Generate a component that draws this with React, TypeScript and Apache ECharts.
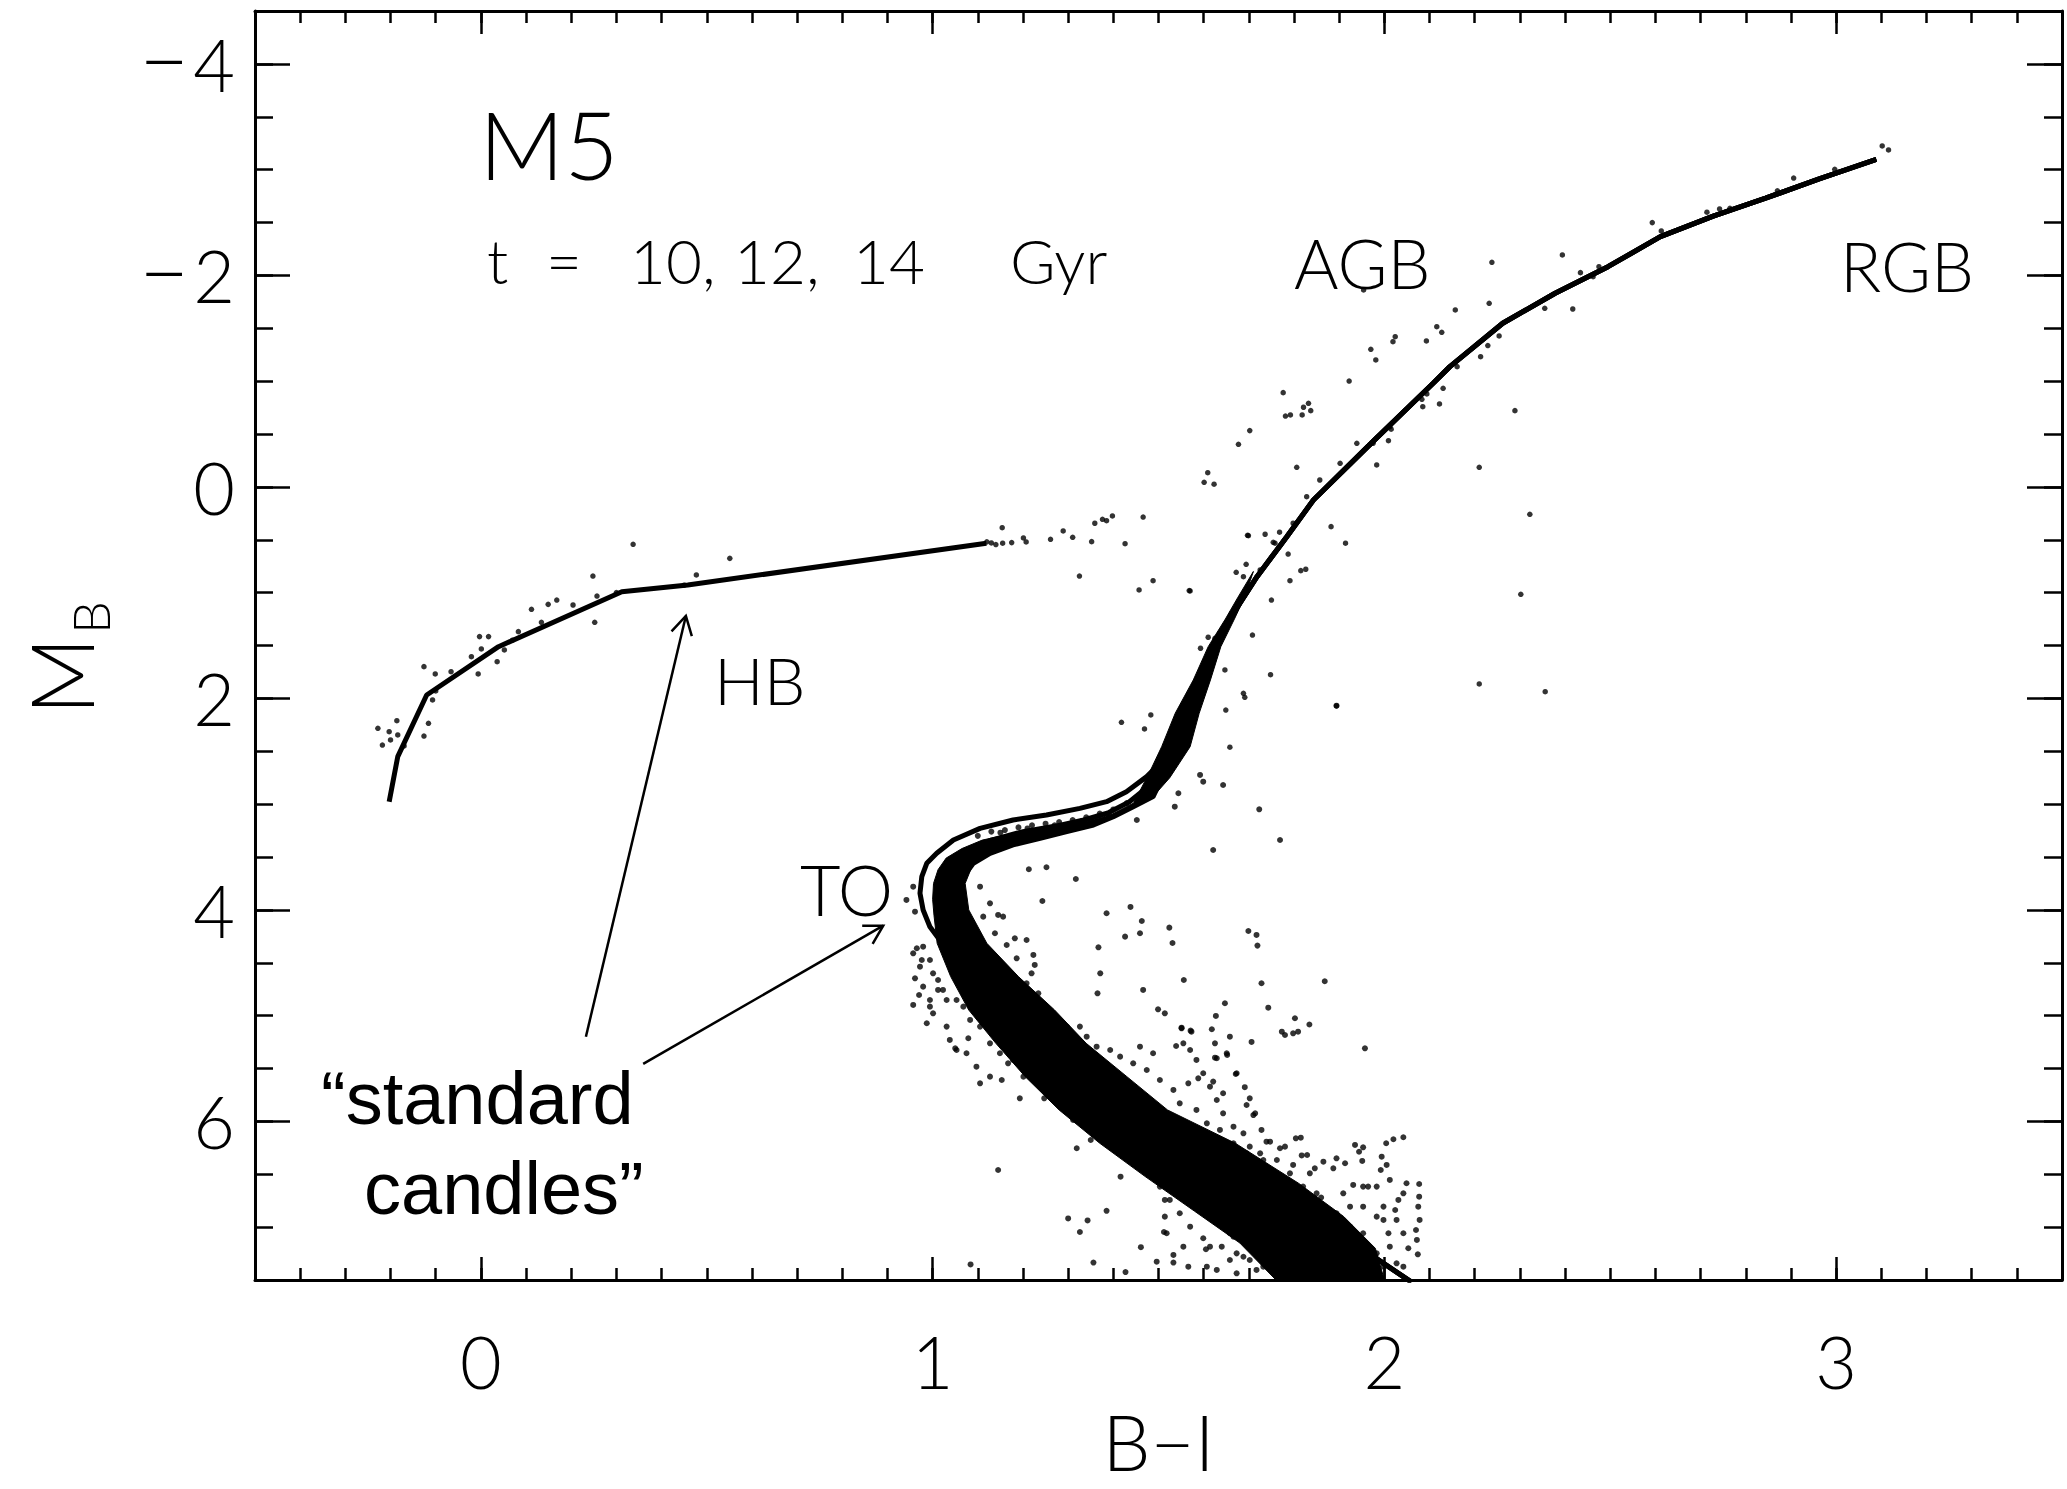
import React, { useEffect, useRef } from "react";
import * as echarts from "echarts";

// Colour–magnitude diagram of the globular cluster M5 (B−I against M_B),
// with 10/12/14 Gyr isochrones, the ZAHB track and the observed stars.

const xTickValues = [0, 1, 2, 3];
const yTickValues = [-4, -2, 0, 2, 4, 6];

// Lower main sequence shared by the three isochrones (faint end upward)
const isoMainSequence = [
  [2.06, 7.52], [1.9, 7.06], [1.72, 6.7], [1.57, 6.35], [1.44, 6.0],
  [1.32, 5.65], [1.235, 5.3], [1.165, 4.95], [1.11, 4.65],
];
// Turn-off and subgiant segments, one per age
const isoTurnoff10 = [
  [1.06, 4.45], [1.015, 4.28], [0.994, 4.159], [0.979, 4.001], [0.972, 3.843],
  [0.976, 3.686], [0.987, 3.56], [1.009, 3.465], [1.046, 3.339], [1.105, 3.229],
  [1.178, 3.15], [1.252, 3.103], [1.326, 3.04], [1.385, 2.977], [1.429, 2.882],
  [1.474, 2.74], [1.511, 2.583],
];
const isoTurnoff12 = [
  [1.08, 4.45], [1.05, 4.2], [1.04, 4.0], [1.03, 3.843], [1.035, 3.686],
  [1.05, 3.56], [1.075, 3.46], [1.13, 3.34], [1.2, 3.26], [1.27, 3.21],
  [1.335, 3.15], [1.39, 3.08], [1.435, 2.98], [1.47, 2.86], [1.5, 2.7],
];
const isoTurnoff14 = [
  [1.09, 4.45], [1.07, 4.2], [1.064, 4.001], [1.06, 3.843], [1.068, 3.686],
  [1.09, 3.56], [1.127, 3.465], [1.178, 3.386], [1.238, 3.323], [1.297, 3.26],
  [1.356, 3.197], [1.4, 3.119], [1.444, 3.024], [1.488, 2.929], [1.508, 2.75],
];
// Giant branch shared by the three isochrones (base to tip)
const isoGiantBranch = [
  [1.518, 2.551], [1.57, 1.984], [1.614, 1.606], [1.666, 1.195], [1.718, 0.849],
  [1.784, 0.471], [1.843, 0.124], [1.975, -0.43], [2.108, -0.98], [2.145, -1.137],
  [2.262, -1.547], [2.378, -1.831], [2.495, -2.082], [2.611, -2.366], [2.728, -2.56],
  [2.844, -2.73], [2.961, -2.91], [3.089, -3.098],
];
// Zero-age horizontal branch track
const hbTrack = [
  [-0.203, 2.977], [-0.184, 2.551], [-0.12, 1.968], [0.039, 1.511],
  [0.312, 0.991], [0.458, 0.928], [1.119, 0.533],
];

// Outline of the densely populated cluster body: lower RGB, SGB, turn-off, MS
const clusterBodyOutline = [
  [1.71, 0.8], [1.675, 1.05], [1.648, 1.25], [1.61, 1.511], [1.577, 1.826],
  [1.537, 2.141], [1.507, 2.457], [1.48, 2.7], [1.445, 2.99], [1.395, 3.1],
  [1.335, 3.17], [1.26, 3.225], [1.18, 3.275], [1.11, 3.34], [1.065, 3.42],
  [1.03, 3.51], [1.012, 3.62], [1.002, 3.75], [1.0, 3.9], [1.003, 4.05],
  [1.01, 4.316], [1.04, 4.631], [1.08, 4.947], [1.14, 5.262], [1.205, 5.577],
  [1.28, 5.892], [1.37, 6.207], [1.47, 6.52], [1.58, 6.85], [1.68, 7.15],
  [1.76, 7.5], [2.0, 7.5], [1.98, 7.2], [1.91, 6.9], [1.81, 6.585],
  [1.67, 6.207], [1.52, 5.892], [1.43, 5.577], [1.34, 5.262], [1.27, 4.947],
  [1.19, 4.631], [1.12, 4.316], [1.08, 4.0], [1.072, 3.75], [1.09, 3.56],
  [1.127, 3.465], [1.178, 3.386], [1.238, 3.323], [1.297, 3.26], [1.356, 3.197],
  [1.4, 3.119], [1.444, 3.024], [1.488, 2.929], [1.525, 2.75], [1.57, 2.457],
  [1.59, 2.141], [1.615, 1.826], [1.638, 1.511], [1.668, 1.25], [1.69, 1.05],
];

// Horizontal-branch stars (blue tail, red end and the variable-star gap)
const hbStars = [
  [-0.228, 2.283], [-0.203, 2.315], [-0.184, 2.346], [-0.218, 2.441], [-0.2, 2.393],
  [-0.186, 2.211], [-0.116, 2.236], [-0.126, 2.356], [-0.107, 2.015], [-0.126, 1.7],
  [-0.101, 1.769], [-0.066, 1.748], [-0.003, 1.416], [0.017, 1.416], [0.001, 1.533],
  [-0.021, 1.606], [-0.006, 1.769], [0.036, 1.653], [0.052, 1.542], [0.083, 1.369],
  [0.134, 1.281], [0.112, 1.158], [0.149, 1.111], [0.168, 1.07], [0.204, 1.117],
  [0.248, 0.843], [0.257, 1.032], [0.252, 1.281], [0.337, 0.543], [0.477, 0.833],
  [0.551, 0.676], [0.45, 0.93], [0.3, 1.0], [-0.1, 1.93], [0.07, 1.45], [-0.17, 2.45],
  [1.154, 0.386], [1.155, 0.533], [1.175, 0.527], [1.201, 0.483], [1.207, 0.521],
  [1.261, 0.496], [1.289, 0.417], [1.31, 0.477], [1.352, 0.518], [1.359, 0.344],
  [1.376, 0.307], [1.385, 0.32], [1.398, 0.275], [1.466, 0.285], [1.426, 0.537],
  [1.325, 0.843], [1.457, 0.975], [1.488, 0.887], [1.57, 0.984], [1.13, 0.53],
  [1.14, 0.545], [1.12, 0.52],
];

// Giant-branch, AGB and bright field stars
const giantStars = [
  [1.922, -1.001], [1.776, -0.891], [1.832, -0.79], [1.837, -0.721], [1.821, -0.753],
  [1.781, -0.67], [1.792, -0.68], [1.818, -0.68], [1.702, -0.532], [1.677, -0.403],
  [1.609, -0.134], [1.601, -0.043], [1.623, -0.025], [1.806, -0.185], [1.983, -0.207],
  [2.009, -0.437], [2.015, -0.545], [2.083, -0.828], [2.085, -0.758], [2.122, -0.784],
  [2.094, -0.879], [2.13, -0.932], [2.289, -0.721], [2.21, -0.185], [2.322, 0.259],
  [2.302, 1.016], [2.21, 1.864], [2.356, 1.937], [1.894, 2.072], [1.748, 1.776],
  [1.708, 1.401], [1.914, 0.533], [1.882, 0.376], [1.791, 0.887], [1.815, 0.792],
  [1.826, 0.779], [1.75, 1.07], [1.699, 0.461], [1.736, 0.448], [1.768, 0.429],
  [1.694, 0.732], [1.672, 0.808], [1.688, 0.849], [1.568, 0.981], [1.418, 2.226],
  [1.483, 2.157], [1.469, 2.289], [1.61, 1.422], [1.625, 1.432], [1.593, 1.526],
  [1.647, 1.731], [1.649, 2.11], [1.688, 1.952], [1.691, 1.99], [1.658, 2.462],
  [1.754, 0.524], [1.787, 0.635], [1.697, 0.458],
  [3.102, -3.224], [3.116, -3.186], [2.997, -3.003], [2.714, -2.597], [2.742, -2.628],
  [2.765, -2.634], [2.593, -2.499], [2.613, -2.42], [2.394, -2.193], [2.238, -2.124],
  [2.434, -2.026], [2.475, -2.082], [2.462, -1.988], [2.157, -1.673], [2.232, -1.736],
  [2.355, -1.689], [2.417, -1.682], [2.254, -1.427], [2.229, -1.336], [2.213, -1.231],
  [2.161, -1.137], [1.954, -1.862], [2.116, -1.515], [2.127, -1.462], [2.019, -1.373],
  [2.024, -1.42], [2.093, -1.38], [1.97, -1.301], [1.981, -1.2], [2.906, -2.92],
  [2.87, -2.8],
  // stars sitting on the red giant branch
  [1.857, -0.065], [1.828, 0.093], [1.798, 0.344], [1.758, 0.533], [1.725, 0.786],
  [1.68, 1.07], [1.662, 1.195], [1.636, 1.384], [1.614, 1.606], [1.592, 1.763],
  [1.577, 1.921], [1.902, -0.223], [1.939, -0.412], [1.975, -0.412], [2.012, -0.569],
];

// Stars around the turn-off and main sequence, plus faint field stars
const fieldStars = [
  [1.643, 2.819], [1.599, 2.788], [1.592, 2.724], [1.544, 2.897], [1.723, 3.049],
  [1.769, 3.339], [1.621, 3.434], [1.536, 3.024], [1.452, 3.15], [1.252, 3.597],
  [1.213, 3.616], [1.317, 3.708], [1.243, 3.916], [1.385, 4.032], [1.438, 3.972],
  [1.463, 4.105], [1.524, 4.168], [1.459, 4.221], [1.426, 4.253], [1.531, 4.313],
  [1.367, 4.354], [1.699, 4.2], [1.717, 4.237], [1.719, 4.338], [1.556, 4.663],
  [1.728, 4.694], [1.371, 4.6], [1.365, 4.789], [1.466, 4.757], [1.647, 4.883],
  [1.743, 4.925], [1.802, 5.025], [1.773, 5.152], [1.78, 5.183], [1.499, 4.94],
  [1.514, 4.978], [1.627, 5.003], [1.618, 5.129], [1.551, 5.114], [1.571, 5.142],
  [1.706, 5.249], [1.658, 5.199], [1.652, 5.372], [1.625, 5.398], [1.539, 5.287],
  [1.488, 5.356], [1.459, 5.294], [1.673, 5.545], [1.621, 5.624], [1.588, 5.593],
  [1.566, 5.64], [1.643, 5.734], [1.714, 5.924], [1.695, 5.845], [1.739, 6.192],
  [1.769, 6.254], [1.804, 6.16], [1.809, 5.152],
  [0.942, 3.906], [0.957, 3.781], [0.961, 4.017], [0.965, 4.363], [0.976, 4.474],
  [0.961, 4.647], [0.97, 4.805], [0.957, 4.899], [1.012, 4.757], [1.038, 5.23],
  [1.053, 5.325], [1.079, 5.214], [1.105, 5.64], [1.153, 5.609], [1.193, 5.782],
  [1.247, 5.782], [1.145, 6.46], [0.994, 4.915], [1.167, 5.451], [1.134, 5.01],
  [1.311, 5.987], [1.319, 6.254], [1.35, 6.176], [1.416, 6.523],
  [1.894, 2.069], [1.957, 5.309], [1.868, 4.675], [1.834, 5.084], [1.3, 6.918],
  [1.343, 6.937], [1.326, 7.046], [1.385, 6.846], [1.356, 7.335], [1.461, 7.19],
  [1.512, 7.046], [1.605, 7.209], [1.715, 7.19], [1.533, 7.335], [1.427, 7.425],
  [1.084, 7.353], [1.05, 5.309], [1.817, 6.322], [1.86, 6.72], [1.798, 5.167],
  [2.042, 6.15], [2.02, 6.169], [2.004, 6.207], [1.935, 6.223], [1.953, 6.245],
  [1.944, 6.287], [1.951, 6.374], [1.994, 6.334], [2.005, 6.412], [1.992, 6.46],
  [2.049, 6.585], [2.077, 6.592], [2.077, 6.712], [2.075, 6.807], [2.078, 6.932],
  [2.07, 7.027], [2.072, 7.121], [2.074, 7.257], [2.053, 7.2], [2.042, 7.374],
  [2.024, 6.838], [2.031, 6.743], [1.998, 6.806], [2.009, 7.058], [1.983, 6.901],
  [1.964, 6.617], [1.931, 6.601], [1.913, 6.396], [1.894, 6.349], [1.887, 6.444],
  [1.865, 6.381], [1.846, 6.444], [1.829, 6.318], [1.815, 6.154], [1.798, 6.412],
  [1.78, 6.239], [1.747, 6.192], [1.728, 6.081], [1.71, 5.94], [1.702, 5.782],
  [1.691, 5.677], [1.671, 5.552], [1.651, 5.356], [1.629, 5.403], [1.625, 5.262],
  [1.573, 5.152], [1.551, 5.12],
  [1.514, 6.901], [1.533, 7.263], [1.555, 7.185], [1.566, 7.374], [1.607, 7.374],
  [1.599, 7.105], [1.64, 7.185], [1.666, 7.09], [1.658, 7.311], [1.688, 7.28],
  [1.518, 7.058], [1.496, 7.327], [1.514, 6.743],
  [1.717, 7.405], [1.798, 7.374], [1.828, 7.405], [1.88, 7.421], [1.924, 7.374],
  [1.961, 7.437], [1.99, 7.468],
  // red-side fringe of the upper main sequence
  [1.105, 3.781], [1.127, 3.938], [1.112, 4.064], [1.145, 4.048], [1.156, 4.064],
  [1.138, 4.221], [1.164, 4.332], [1.182, 4.269], [1.186, 4.458], [1.208, 4.285],
  [1.223, 4.426], [1.226, 4.521], [1.219, 4.6], [1.208, 4.694], [1.234, 4.789],
  [1.252, 4.978], [1.238, 5.072], [1.275, 5.072], [1.297, 5.104], [1.326, 5.104],
  [1.341, 5.199], [1.363, 5.294], [1.393, 5.325], [1.415, 5.388], [1.444, 5.451],
  [1.474, 5.514], [1.503, 5.609], [1.533, 5.703], [1.547, 5.829], [1.584, 5.892],
  [1.607, 6.018], [1.636, 6.081], [1.666, 6.207], [1.695, 6.302], [1.732, 6.365],
  [1.754, 6.491],
  // blue-side fringe of the main sequence
  [0.979, 4.348], [0.994, 4.474], [1.001, 4.6], [1.012, 4.663], [1.023, 4.757],
  [1.031, 4.852], [1.053, 4.852], [1.068, 4.915], [1.083, 5.041], [1.105, 5.104],
  [1.127, 5.262], [1.149, 5.356], [1.178, 5.419], [1.201, 5.577], [1.223, 5.609],
  [1.252, 5.672], [1.282, 5.766], [1.326, 5.829], [1.348, 5.987], [1.37, 6.05],
  [1.4, 6.113], [1.429, 6.207], [1.459, 6.239], [1.474, 6.365], [1.511, 6.428],
  [0.957, 4.411], [0.972, 4.537], [0.979, 4.726], [0.994, 4.852], [1.001, 4.978],
  [0.987, 5.072], [1.031, 5.104], [1.075, 5.356], [1.097, 5.483], [1.127, 5.577],
  // scatter around the faint end of the main sequence
  [1.953, 6.617], [1.983, 6.617], [2.012, 6.554], [2.042, 6.68], [1.998, 6.932],
  [2.027, 6.932], [2.042, 7.058], [2.012, 7.185], [1.983, 7.248], [1.953, 7.058],
  [1.924, 6.996], [1.894, 6.869], [1.865, 6.807], [1.85, 6.68], [1.82, 6.617],
  [1.806, 6.743], [1.828, 6.869], [1.85, 6.996], [1.88, 7.058], [1.909, 7.185],
  [1.939, 7.311], [1.968, 7.342], [1.998, 7.374], [2.027, 7.342], [1.924, 6.807],
  [1.953, 6.807], [1.909, 6.68], [1.835, 6.491], [1.791, 6.491], [1.762, 6.365],
  [1.739, 6.428], [1.725, 6.302], [1.702, 6.239], [1.688, 6.113], [1.666, 6.05],
  [1.643, 5.924], [1.629, 5.798], [1.614, 5.672], [1.599, 5.545], [1.584, 5.419],
  [1.57, 5.325], [1.555, 5.262],
  [1.503, 6.617], [1.525, 6.743], [1.547, 6.869], [1.57, 6.996], [1.525, 6.491],
  [1.496, 6.365], [1.555, 6.617], [1.584, 6.807], [1.629, 6.932], [1.658, 7.058],
  [1.614, 7.185], [1.673, 7.248], [1.702, 7.311], [1.732, 7.374], [1.762, 7.437],
  [1.673, 7.437], [1.629, 7.405],
  // subgiants between the isochrones
  [1.1, 3.3], [1.13, 3.26], [1.16, 3.245], [1.19, 3.22], [1.22, 3.2],
  [1.25, 3.185], [1.28, 3.17], [1.31, 3.15], [1.34, 3.125], [1.37, 3.09],
  [1.4, 3.05], [1.43, 2.99], [1.15, 3.27], [1.21, 3.23], [1.27, 3.2],
  [1.33, 3.16], [1.39, 3.1],
];

// "standard candles" pointers: from the caption to the HB and the turn-off
const arrowTails = [[0.2325, 5.199], [0.3593, 5.457]];
const arrowTips = [[0.4538, 1.2208], [0.8906, 4.149]];

const THIN_FONT = "Lato, 'DejaVu Sans', sans-serif";
const CAPTION_FONT = "'Liberation Sans', Arial, sans-serif";

// Tick label with a long minus sign drawn as its own rich-text token
const tickText = (v: number) =>
  v < 0 ? "{neg|\u2212}{num|" + String(Math.abs(v)) + "}" : "{num|" + String(v) + "}";

const tickRich = {
  neg: {
    fontSize: 86,
    fontFamily: THIN_FONT,
    fontWeight: 300,
    color: "#000",
    padding: [0, 4, 10, 0],
  },
  num: {
    fontSize: 72,
    fontFamily: THIN_FONT,
    fontWeight: 300,
    color: "#000",
  },
};

function buildOption() {
  const frameLine = { color: "#000", width: 3 };
  const tickLine = { color: "#000", width: 2.5 };

  const isoPath = (turnoff: number[][]) => [
    ...isoMainSequence,
    ...turnoff,
    ...isoGiantBranch,
  ];

  const lineSeries = (name: string, data: number[][]) => ({
    name,
    type: "line",
    data,
    xAxisIndex: 0,
    yAxisIndex: 0,
    showSymbol: false,
    symbol: "none",
    smooth: false,
    lineStyle: { color: "#000", width: 5 },
    z: 4,
    silent: true,
  });

  const starSeries = (name: string, data: number[][], size: number) => ({
    name,
    type: "scatter",
    data,
    xAxisIndex: 0,
    yAxisIndex: 0,
    symbol: "circle",
    symbolSize: size,
    itemStyle: { color: "#000" },
    z: 3,
    silent: true,
  });

  const text = (
    str: string,
    x: number,
    y: number,
    size: number,
    family = THIN_FONT,
    weight: number | string = 300
  ) => ({
    type: "text",
    x,
    y,
    silent: true,
    style: {
      text: str,
      fontSize: size,
      fontFamily: family,
      fontWeight: weight,
      fill: "#000",
      align: "left",
      verticalAlign: "middle",
    },
  });

  const xMajor = (position: string, labels: boolean) => ({
    type: "value",
    position,
    min: -0.5,
    max: 3.5,
    axisLine: { show: true, onZero: false, lineStyle: frameLine },
    axisTick: { show: true, inside: true, length: 23, customValues: xTickValues, lineStyle: tickLine },
    axisLabel: {
      show: labels,
      customValues: xTickValues,
      margin: 45,
      fontSize: 72,
      fontFamily: THIN_FONT,
      fontWeight: 300,
      color: "#000",
      rich: tickRich,
      formatter: (v: number) =>
        Math.abs(v - Math.round(v)) < 1e-6 ? tickText(Math.round(v)) : "",
    },
    splitLine: { show: false },
  });
  const xMinor = (position: string) => ({
    type: "value",
    position,
    min: -0.5,
    max: 3.5,
    interval: 0.1,
    axisLine: { show: false, onZero: false },
    axisTick: { show: true, inside: true, length: 12, lineStyle: tickLine },
    axisLabel: { show: false },
    splitLine: { show: false },
  });
  const yMajor = (position: string, labels: boolean) => ({
    type: "value",
    position,
    inverse: true,
    min: -4.5,
    max: 7.5,
    axisLine: { show: true, onZero: false, lineStyle: frameLine },
    axisTick: { show: true, inside: true, length: 35, customValues: yTickValues, lineStyle: tickLine },
    axisLabel: {
      show: labels,
      customValues: yTickValues,
      margin: 20,
      fontSize: 72,
      fontFamily: THIN_FONT,
      fontWeight: 300,
      color: "#000",
      rich: tickRich,
      formatter: (v: number) =>
        Math.abs(v / 2 - Math.round(v / 2)) < 1e-6 ? tickText(Math.round(v)) : "",
    },
    splitLine: { show: false },
  });
  const yMinor = (position: string) => ({
    type: "value",
    position,
    inverse: true,
    min: -4.5,
    max: 7.5,
    interval: 0.5,
    axisLine: { show: false, onZero: false },
    axisTick: { show: true, inside: true, length: 18, lineStyle: tickLine },
    axisLabel: { show: false },
    splitLine: { show: false },
  });

  const xBottom = {
    ...xMajor("bottom", true),
    name: "B\u2212I",
    nameLocation: "middle",
    nameGap: 133,
    nameTextStyle: {
      fontSize: 76,
      lineHeight: 56,
      fontFamily: THIN_FONT,
      fontWeight: 300,
      color: "#000",
    },
  };

  return {
    animation: false,
    backgroundColor: "#fff",
    grid: { left: 255, right: 5, top: 11, bottom: 209, containLabel: false, show: false },
    xAxis: [xBottom, xMinor("bottom"), xMajor("top", false), xMinor("top")],
    yAxis: [yMajor("left", true), yMinor("left"), yMajor("right", false), yMinor("right")],
    series: [
      {
        name: "cluster body",
        type: "custom",
        coordinateSystem: "cartesian2d",
        xAxisIndex: 0,
        yAxisIndex: 0,
        data: [clusterBodyOutline[0]],
        silent: true,
        z: 2,
        renderItem: (_params: any, api: any) => ({
          type: "polygon",
          shape: { points: clusterBodyOutline.map((p) => api.coord(p)) },
          style: { fill: "#000", stroke: "#000", lineWidth: 1 },
        }),
      },
      starSeries("field stars", fieldStars, 6),
      starSeries("giant stars", giantStars, 5.5),
      starSeries("HB stars", hbStars, 5.5),
      lineSeries("10 Gyr", isoPath(isoTurnoff10)),
      lineSeries("12 Gyr", isoPath(isoTurnoff12)),
      lineSeries("14 Gyr", isoPath(isoTurnoff14)),
      lineSeries("ZAHB", hbTrack),
      {
        name: "pointers",
        type: "custom",
        coordinateSystem: "cartesian2d",
        xAxisIndex: 0,
        yAxisIndex: 0,
        silent: true,
        z: 6,
        data: arrowTips.map((tip, i) => [tip[0], tip[1], arrowTails[i][0], arrowTails[i][1]]),
        renderItem: (_params: any, api: any) => {
          const tip = api.coord([api.value(0), api.value(1)]);
          const tail = api.coord([api.value(2), api.value(3)]);
          const ang = Math.atan2(tail[1] - tip[1], tail[0] - tip[0]);
          const len = 21;
          const spread = 0.52;
          const w1 = [tip[0] + len * Math.cos(ang + spread), tip[1] + len * Math.sin(ang + spread)];
          const w2 = [tip[0] + len * Math.cos(ang - spread), tip[1] + len * Math.sin(ang - spread)];
          const style = { stroke: "#000", lineWidth: 2.5, fill: null };
          return {
            type: "group",
            children: [
              { type: "line", shape: { x1: tail[0], y1: tail[1], x2: tip[0], y2: tip[1] }, style },
              { type: "polyline", shape: { points: [w1, tip, w2] }, style },
            ],
          };
        },
      },
    ],
    graphic: [
      text("M5", 479, 143, 94),
      text("t", 487, 260, 62),
      text("=", 546, 260, 62),
      text("10,", 630, 260, 62),
      text("12,", 734, 260, 62),
      text("14", 853, 260, 62),
      text("Gyr", 1010, 260, 62),
      text("AGB", 1294, 262, 68),
      text("RGB", 1840, 265, 68),
      text("HB", 714, 679, 66),
      text("TO", 800, 889, 70),
      text("\u201Cstandard", 321, 1098, 74, CAPTION_FONT, "normal"),
      text("candles\u201D", 364, 1188, 74, CAPTION_FONT, "normal"),
      {
        type: "group",
        x: 60,
        y: 676,
        rotation: Math.PI / 2,
        silent: true,
        children: [
          {
            type: "text",
            x: 0,
            y: 0,
            style: {
              text: "M",
              fontSize: 86,
              fontFamily: THIN_FONT,
              fontWeight: 300,
              fill: "#000",
              align: "center",
              verticalAlign: "middle",
            },
          },
          {
            type: "text",
            x: 42,
            y: 30,
            style: {
              text: "B",
              fontSize: 52,
              fontFamily: THIN_FONT,
              fontWeight: 300,
              fill: "#000",
              align: "left",
              verticalAlign: "middle",
            },
          },
        ],
      },
    ],
  };
}

export default function App() {
  const ref = useRef<HTMLDivElement | null>(null);

  useEffect(() => {
    if (!ref.current) return;
    const chart = echarts.init(ref.current, undefined, { renderer: "svg" });
    chart.setOption(buildOption() as any);
    return () => {
      chart.dispose();
    };
  }, []);

  return (
    <div
      ref={ref}
      style={{
        position: "fixed",
        left: 0,
        top: 0,
        width: 2067,
        height: 1489,
        background: "#fff",
      }}
    />
  );
}
